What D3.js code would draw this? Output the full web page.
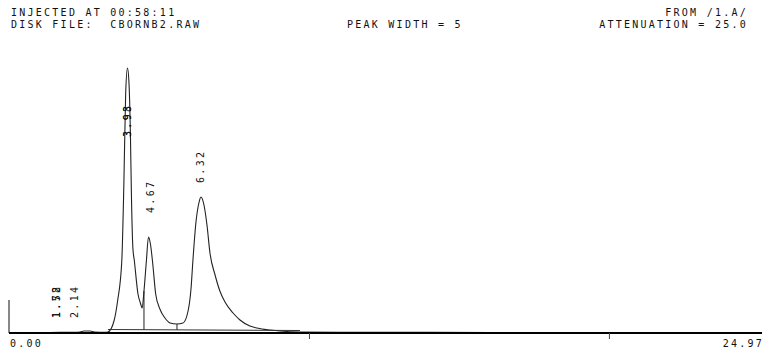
<!DOCTYPE html>
<html><head><meta charset="utf-8">
<script src="https://cdn.jsdelivr.net/npm/d3@7"></script>
<style>
body{margin:0;background:#fff;}
text{font-family:"DejaVu Sans Mono","Liberation Mono",monospace;fill:#111;white-space:pre;}
</style></head>
<body><svg id="c" width="764" height="350"></svg>
<script>
// Header texts
const headerLeft = ["INJECTED AT 00:58:11", "DISK FILE:  CBORNB2.RAW"];
const headerMid = "PEAK WIDTH = 5";
const headerRight = ["FROM /1.A/", "ATTENUATION = 25.0"];
// Axis
const timeStart = 0, timeEnd = 24.97;
const axisLabels = ["0.00", "24.97"];
const tickTimes = [10, 20];
// Detector trace (time in minutes, signal in arbitrary units)
const traceTime = [0, 1.0, 1.7, 2.2, 2.37, 2.5, 2.7, 2.85, 3.2, 3.3, 3.5, 3.62, 3.76, 3.83, 3.89, 3.95, 4.0, 4.05, 4.08, 4.13, 4.18, 4.3, 4.38, 4.44, 4.5, 4.58, 4.65, 4.72, 4.79, 4.89, 5.03, 5.2, 5.37, 5.6, 5.8, 5.97, 6.07, 6.13, 6.23, 6.33, 6.4, 6.5, 6.6, 6.7, 6.87, 7.03, 7.2, 7.47, 7.7, 8.03, 8.27, 8.43, 8.7, 9.03, 9.7, 11, 14, 18, 22, 24.97];
const traceSignal = [0.5, 0.5, 0.6, 0.6, 1.0, 2.0, 2.0, 1.0, 0.6, 1.0, 12, 32, 72, 150, 240, 265, 250, 195, 140, 85, 72, 39, 30, 25, 42, 72, 96, 88, 70, 39, 24, 15, 10, 9, 10, 22, 45, 72, 110, 130, 136, 128, 108, 80, 58, 42, 31, 20, 13, 7, 5, 4, 3, 2, 1, 0.8, 0.6, 0.5, 0.5, 0.5];
// Integration baseline and peak drop lines (time)
const baseTime = [3.3, 9.7];
const baseSignal = [3.5, 2.5];
const dropTimes = [4.5, 5.6];
// Peak labels
const peakLabels = ["3.93", "3.98", "4.67", "6.32", "1.52", "1.78", "2.14"];
const peakLabelTimes = [3.97, 3.97, 4.72, 6.4, 1.6, 1.6, 2.2];
const peakLabelSignal = [196, 196, 120, 150, 15, 15, 15];

const svg = d3.select("#c");
const x = d3.scaleLinear().domain([timeStart, timeEnd]).range([9, 758]);
const y = d3.scaleLinear().domain([0, 266]).range([333, 67]);

const fs = 10, ls = 2.25;
function hdr(t, xx, yy, anchor){
  svg.append("text").attr("x", xx).attr("y", yy).attr("font-size", fs)
    .attr("letter-spacing", ls).attr("text-anchor", anchor).text(t);
}
hdr(headerLeft[0], 11, 16, "start");
hdr(headerLeft[1], 11, 28, "start");
hdr(headerMid, 347, 28, "start");
hdr(headerRight[0], 748, 16, "end");
hdr(headerRight[1], 748, 28, "end");

// trace
const pts = traceTime.map((t,i)=>[t, traceSignal[i]]);
svg.append("path").datum(pts)
  .attr("d", d3.line().x(d=>x(d[0])).y(d=>y(d[1])).curve(d3.curveMonotoneX))
  .attr("fill","none").attr("stroke","#222").attr("stroke-width",1.1);

// baseline
const bpts = baseTime.map((t,i)=>[t, baseSignal[i]]);
svg.append("path").datum(bpts)
  .attr("d", d3.line().x(d=>x(d[0])).y(d=>y(d[1])))
  .attr("fill","none").attr("stroke","#333").attr("stroke-width",1);
const bInterp = d3.scaleLinear().domain(baseTime).range(baseSignal);
const sInterp = d3.scaleLinear().domain(traceTime).range(traceSignal);
dropTimes.forEach(t=>{
  svg.append("line").attr("x1",x(t)).attr("x2",x(t))
    .attr("y1",y(sInterp(t))).attr("y2",y(bInterp(t)))
    .attr("stroke","#222").attr("stroke-width",1);
});

// axis
const ax = svg.append("g").attr("transform","translate(0,333)");
ax.call(d3.axisBottom(x).tickValues(tickTimes).tickSize(6).tickFormat(""));
ax.select(".domain").attr("d", `M${x(timeStart)},0H${x(timeEnd)+4}`).attr("stroke","#000").attr("stroke-width",2);
ax.selectAll(".tick line").attr("stroke","#444");
svg.append("line").attr("x1",x(timeStart)).attr("x2",x(timeStart)).attr("y1",300).attr("y2",333).attr("stroke","#111").attr("stroke-width",1);
svg.append("text").attr("x",10).attr("y",347).attr("font-size",fs).attr("letter-spacing",ls).text(axisLabels[0]);
svg.append("text").attr("x",764).attr("y",347).attr("font-size",fs).attr("letter-spacing",ls).attr("text-anchor","end").text(axisLabels[1]);

// peak labels (rotated)
peakLabels.forEach((lab,i)=>{
  const px = x(peakLabelTimes[i]) + 3, py = y(peakLabelSignal[i]);
  svg.append("text").attr("transform",`translate(${px},${py}) rotate(-90)`)
    .attr("font-size",10).attr("letter-spacing",2.3).text(lab);
});
</script></body></html>
